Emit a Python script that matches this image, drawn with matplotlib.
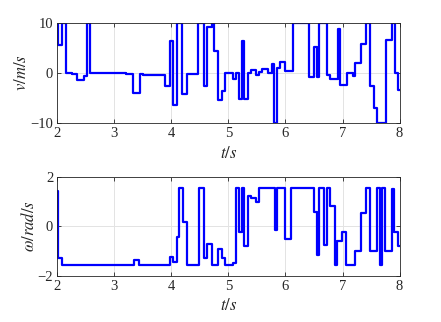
import matplotlib
matplotlib.use("Agg")
import matplotlib.pyplot as plt

# top panel: step change times and speed values v (m/s)
t_v = [1.99, 2.006, 2.09, 2.16, 2.25, 2.35, 2.46, 2.52, 2.57, 3.00, 3.20, 3.33, 3.45, 3.50,
       3.80, 3.89, 3.97, 4.03, 4.09, 4.19, 4.28, 4.47, 4.57, 4.63, 4.72, 4.75, 4.82, 4.88,
       4.94, 5.08, 5.13, 5.19, 5.24, 5.28, 5.34, 5.39, 5.48, 5.53, 5.59, 5.69, 5.76, 5.80,
       5.85, 5.90, 6.00, 6.14, 6.42, 6.50, 6.55, 6.59, 6.73, 6.78, 6.92, 6.96, 7.07, 7.18,
       7.22, 7.32, 7.41, 7.48, 7.55, 7.61, 7.76, 7.86, 7.92, 7.98, 8.00]
v = [10, 5.6, 10, 0.0, -0.3, -1.45, -0.6, 10, 0.0, -0.1, -0.3, -4.1, -0.3, -0.5,
     -0.45, -2.7, 6.45, -6.4, 10, -4.3, -0.2, 10, -2.65, 9.2, 10, 4.4, -5.45, -3.65,
     -0.1, -1.25, -0.1, -5.25, 6.45, -5.25, 0.05, 0.6, -0.4, 0.15, 0.8, -0.05, 1.75, -10,
     0.95, 2.1, 0.4, 10, -0.9, 5.25, -0.8, 10, -0.4, -1.15, 8.7, -2.4, -0.1, -0.7,
     2.0, 5.75, 10, -2.65, -7.0, -10, 6.6, 10, 0.0, -3.4, -3.4]

# bottom panel: step change times and angular speed values w (rad/s)
t_w = [1.99, 2.006, 2.09, 3.34, 3.44, 3.97, 4.03, 4.09, 4.14, 4.20, 4.28, 4.48, 4.57, 4.63,
       4.72, 4.82, 4.88, 4.94, 5.08, 5.13, 5.19, 5.24, 5.28, 5.34, 5.39, 5.48, 5.53, 5.81,
       5.86, 6.00, 6.09, 6.50, 6.55, 6.59, 6.68, 6.73, 6.78, 6.86, 6.91, 6.99, 7.06, 7.22,
       7.32, 7.41, 7.48, 7.60, 7.65, 7.70, 7.75, 7.86, 7.91, 7.97, 8.00]
w = [1.42, -1.29, -1.57, -1.35, -1.57, -1.25, -1.43, -0.44, 1.55, 0.17, -1.57, 1.55, -1.3, -0.72,
     -1.57, -0.93, -1.27, -1.57, -1.47, 1.53, -0.24, 1.55, -0.82, 1.21, 1.16, 0.98, 1.55, -0.17,
     1.55, -0.51, 1.55, 0.58, -1.15, 1.55, -0.78, 1.55, 0.8, -1.55, -0.6, -0.24, -1.57, -1.0,
     0.54, 1.55, -1.0, 1.55, -1.57, 1.55, -1.0, 1.5, -0.25, -0.8, -0.8]

x_ticks = [2, 3, 4, 5, 6, 7, 8]
v_ticks = [-10, 0, 10]
w_ticks = [-2, 0, 2]

plt.rcParams['font.family'] = ['Liberation Serif', 'DejaVu Serif']
plt.rcParams['mathtext.fontset'] = 'stix'

fig = plt.figure(figsize=(4.41, 3.22), dpi=100)
ax1 = fig.add_axes([0.130, 0.618, 0.776, 0.311])
ax2 = fig.add_axes([0.130, 0.144, 0.776, 0.307])

axc = '#262626'
for ax, tt, yy, yt, ylab in [(ax1, t_v, v, v_ticks, r'$v/m/s$'),
                              (ax2, t_w, w, w_ticks, r'$\omega/rad/s$')]:
    ax.plot(tt, yy, drawstyle='steps-post', color='#0000ff', lw=1.6)
    ax.set_xlim(2, 8)
    ax.set_ylim(yt[0], yt[-1])
    ax.set_xticks(x_ticks)
    ax.set_yticks(yt)
    ax.grid(True, color='#e3e3e3', lw=0.7)
    ax.set_axisbelow(True)
    ax.tick_params(direction='in', length=3, width=0.6, colors=axc, labelsize=10.5,
                   top=True, right=True, pad=3)
    for s in ax.spines.values():
        s.set_color(axc)
        s.set_linewidth(0.6)
    ax.set_xlabel(r'$t/s$', fontsize=12, color=axc, labelpad=4)
    ax.set_ylabel(ylab, fontsize=12, color=axc, labelpad=0)

fig.savefig('out.png', dpi=100)
